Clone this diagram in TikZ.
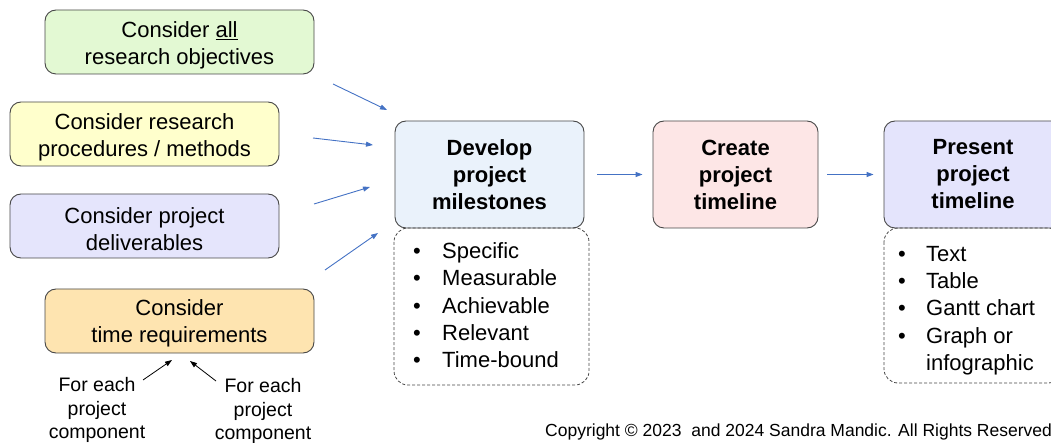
\documentclass[tikz,border=0pt]{standalone}
\usepackage{fontspec}
\setmainfont{Liberation Sans}
\usetikzlibrary{arrows.meta}
\definecolor{cgreen}{HTML}{E3F9D3}
\definecolor{cyellow}{HTML}{FFFFCC}
\definecolor{cpurple}{HTML}{E5E5FC}
\definecolor{corange}{HTML}{FEE4B0}
\definecolor{cdev}{HTML}{EAF2FB}
\definecolor{ccreate}{HTML}{FDE6E6}
\definecolor{cpres}{HTML}{E4E4FC}
\definecolor{cblue}{HTML}{4472C4}
\begin{document}
\begin{tikzpicture}[x=1pt,y=-1pt,
  box/.style={draw=black!72, line width=0.9pt, rounded corners=11pt, align=center, inner sep=0pt,
    font=\fontsize{22}{27}\selectfont},
  txt/.style={align=center, inner sep=0pt, font=\fontsize{22}{27}\selectfont},
  bbox/.style={box, font=\fontsize{22}{27}\selectfont\bfseries},
  dbox/.style={draw=black!72, line width=0.8pt, dash pattern=on 3pt off 2pt, rounded corners=14pt},
  item/.style={anchor=base west, inner sep=0pt, font=\fontsize{22}{27}\selectfont},
  small/.style={align=center, inner sep=0pt, font=\fontsize{19.5}{23.5}\selectfont},
  barrow/.style={draw=cblue, line width=0.9pt, -{Triangle[length=7pt,width=5pt]}},
  karrow/.style={draw=black, line width=0.8pt, -{Triangle[length=7pt,width=5pt]}}
]
\useasboundingbox (0,0) rectangle (1051,443);

% left boxes
\node[box, fill=cgreen, minimum width=269pt, minimum height=64pt] (obj) at (179.5,42) {};
\node[txt] (objt) at (179.5,45) {Consider \underline{all}\\research objectives};
\node[box, fill=cyellow, minimum width=269pt, minimum height=64pt] (proc) at (144.5,134) {};
\node[txt] (proct) at (144.5,137.5) {Consider research\\procedures / methods};
\node[box, fill=cpurple, minimum width=269pt, minimum height=64pt] (deliv) at (144.5,226) {};
\node[txt] (delivt) at (144.5,229) {Consider project\\deliverables};
\node[box, fill=corange, minimum width=269pt, minimum height=64pt] (time) at (179.5,321) {};
\node[txt] (timet) at (179.5,323.5) {Consider\\time requirements};

% main boxes
\node[bbox, fill=cdev, minimum width=189pt, minimum height=107pt] (dev) at (489.5,174.5) {Develop\\project\\milestones};
\node[bbox, fill=ccreate, minimum width=165pt, minimum height=107pt] (cre) at (735.5,174.5) {Create\\project\\timeline};
\node[bbox, fill=cpres, minimum width=178pt, minimum height=107pt] (pres) at (973,174.5) {Present\\project\\timeline};

% dashed boxes
\draw[dbox] (394,228) rectangle (589,385);
\draw[dbox] (884,228) rectangle (1062,383);

% SMART list
\node[item] (s1) at (413,259) {\makebox[29pt][l]{\textbullet}Specific};
\node[item] (s2) at (413,286) {\makebox[29pt][l]{\textbullet}Measurable};
\node[item] (s3) at (413,313) {\makebox[29pt][l]{\textbullet}Achievable};
\node[item] (s4) at (413,340) {\makebox[29pt][l]{\textbullet}Relevant};
\node[item] (s5) at (413,367) {\makebox[29pt][l]{\textbullet}Time-bound};

% presentation list
\node[item] (p1) at (898,262) {\makebox[28pt][l]{\textbullet}Text};
\node[item] (p2) at (898,289) {\makebox[28pt][l]{\textbullet}Table};
\node[item] (p3) at (898,316) {\makebox[28pt][l]{\textbullet}Gantt chart};
\node[item] (p4) at (898,343) {\makebox[28pt][l]{\textbullet}Graph or};
\node[item] (p5) at (898,370) {\makebox[28pt][l]{}infographic};

% for each labels
\node[small] (fe1) at (97,410) {For each\\project\\component};
\node[small] (fe2) at (263,411) {For each\\project\\component};

% arrow coordinates
\coordinate (a1s) at (333,84);  \coordinate (a1e) at (387,110);
\coordinate (a2s) at (313,138); \coordinate (a2e) at (373,145);
\coordinate (a3s) at (314,204); \coordinate (a3e) at (370,187);
\coordinate (a4s) at (325,270); \coordinate (a4e) at (378,233);
\coordinate (k1s) at (143,380); \coordinate (k1e) at (172,360);
\coordinate (k2s) at (216,381); \coordinate (k2e) at (190,361);

\draw[barrow] (a1s) -- (a1e);
\draw[barrow] (a2s) -- (a2e);
\draw[barrow] (a3s) -- (a3e);
\draw[barrow] (a4s) -- (a4e);
\draw[barrow, shorten <=13pt, shorten >=10pt] (dev.east) -- (cre.west);
\draw[barrow, shorten <=9pt, shorten >=10pt] (cre.east) -- (cre.east -| pres.west);
\draw[karrow] (k1s) -- (k1e);
\draw[karrow] (k2s) -- (k2e);

% copyright
\node[anchor=base west, inner sep=0pt, font=\fontsize{17.5}{20}\selectfont] (copy) at (545,436) {Copyright \textcopyright{} 2023\ \ and 2024 Sandra Mandic. All Rights Reserved};
\end{tikzpicture}
\end{document}
